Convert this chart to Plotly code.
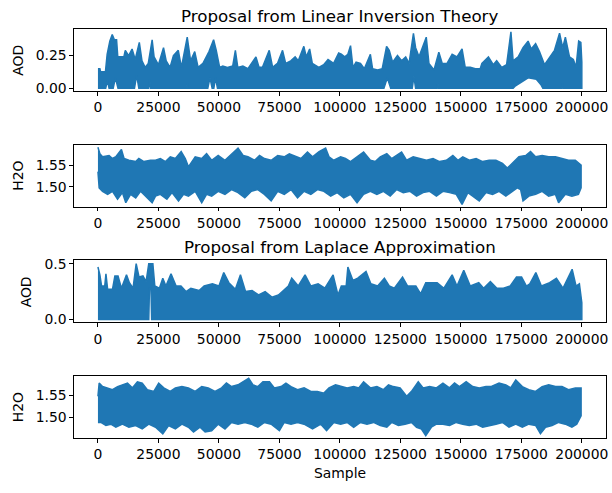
import plotly.graph_objects as go

# ---- data: envelopes (sample, value) ----
lin_aod_hi = [(0,0.15),(800,0.15),(1100,0.127),(3100,0.127),(3800,0.26),(4900,0.36),(5900,0.41),(6800,0.37),(7700,0.37),(8200,0.24),(9300,0.24),(10700,0.24),(11300,0.29),(12700,0.25),(14100,0.30),(15400,0.22),(17100,0.35),(18200,0.21),(19500,0.16),(20800,0.19),(22400,0.37),(23200,0.24),(25000,0.18),(27100,0.31),(28200,0.21),(29800,0.16),(31200,0.25),(33200,0.29),(34500,0.16),(36900,0.39),(38300,0.21),(40000,0.28),(41400,0.16),(43400,0.19),(45900,0.28),(47800,0.37),(48900,0.29),(50300,0.16),(51600,0.17),(53500,0.16),(55700,0.17),(56800,0.29),(57800,0.16),(59900,0.17),(62000,0.15),(65300,0.24),(66600,0.16),(68000,0.16),(70800,0.29),(72200,0.16),(74200,0.19),(76300,0.29),(77600,0.19),(79700,0.21),(81500,0.24),(82800,0.21),(85100,0.32),(86100,0.24),(87500,0.30),(88600,0.19),(91300,0.16),(93300,0.18),(95100,0.22),(97400,0.19),(99500,0.27),(100600,0.26),(102000,0.24),(103300,0.26),(104400,0.325),(105400,0.16),(106700,0.20),(108500,0.19),(110100,0.15),(112600,0.26),(113500,0.15),(115600,0.14),(117500,0.15),(119300,0.32),(120400,0.29),(121800,0.20),(123800,0.25),(125500,0.21),(127200,0.24),(128600,0.19),(130400,0.42),(131300,0.31),(132700,0.24),(134100,0.31),(135700,0.39),(136800,0.19),(138900,0.14),(140900,0.275),(142300,0.19),(144300,0.19),(146400,0.26),(148400,0.24),(150500,0.30),(151800,0.16),(153900,0.16),(156000,0.15),(158000,0.15),(158700,0.19),(161400,0.24),(163400,0.18),(164800,0.21),(166900,0.16),(168900,0.18),(170700,0.43),(171600,0.21),(173700,0.24),(175700,0.31),(177800,0.36),(179100,0.30),(180900,0.34),(182500,0.28),(184600,0.18),(186700,0.24),(188700,0.29),(190800,0.42),(192100,0.31),(193200,0.39),(194900,0.24),(196500,0.22),(197600,0.16),(198700,0.36),(199600,0.35),(200000,0.2)]
lin_aod_lo = [(0,0.0),(3200,0.0),(3900,0.06),(4600,0.0),(6300,0.0),(7200,0.08),(8300,0.0),(15100,0.0),(16000,0.10),(16900,0.0),(21000,0.0),(21400,0.07),(21800,0.0),(36600,0.0),(36900,0.04),(37200,0.0),(45400,0.0),(46300,0.08),(47200,0.0),(47900,0.0),(48600,0.08),(49400,0.0),(118200,0.0),(119600,0.08),(121000,0.0),(129900,0.0),(130600,0.09),(131300,0.0),(140200,0.0),(140500,0.04),(140800,0.0),(171600,0.0),(172300,0.015),(175000,0.05),(177800,0.08),(181200,0.07),(183200,0.025),(183900,0.0),(191700,0.0),(192000,0.035),(192300,0.0),(200000,0.0)]

lin_h2o_hi = [(0,1.591),(800,1.576),(1900,1.569),(4600,1.572),(6000,1.565),(7400,1.569),(9700,1.586),(10800,1.565),(12800,1.561),(15600,1.558),(16900,1.565),(19000,1.558),(21700,1.561),(23800,1.561),(25800,1.565),(27900,1.558),(29900,1.569),(32000,1.565),(34400,1.581),(36100,1.565),(37400,1.546),(40200,1.569),(42900,1.565),(44900,1.576),(47000,1.561),(49700,1.572),(52500,1.561),(55200,1.576),(57900,1.589),(60000,1.572),(62000,1.569),(64700,1.561),(66800,1.572),(68800,1.565),(71600,1.561),(74300,1.572),(77000,1.569),(79100,1.576),(81100,1.572),(83900,1.565),(86600,1.580),(88700,1.569),(91400,1.581),(94100,1.589),(95500,1.569),(97500,1.561),(100300,1.569),(102300,1.565),(104400,1.558),(107100,1.569),(109800,1.580),(112600,1.561),(114600,1.558),(116700,1.569),(119400,1.576),(121400,1.565),(123500,1.572),(125500,1.580),(127600,1.561),(130300,1.569),(133000,1.565),(135800,1.561),(138500,1.565),(141200,1.558),(144000,1.561),(146700,1.572),(148800,1.561),(150800,1.569),(153500,1.561),(156300,1.565),(159000,1.558),(161700,1.561),(164500,1.561),(167200,1.554),(169200,1.543),(171300,1.554),(174000,1.569),(176800,1.572),(178800,1.581),(180900,1.569),(183600,1.572),(186300,1.569),(189100,1.569),(191800,1.565),(194500,1.561),(197300,1.561),(199700,1.550)]
lin_h2o_lo = [(0,1.535),(500,1.498),(1900,1.490),(4000,1.483),(6000,1.490),(8100,1.472),(10100,1.487),(11500,1.464),(13500,1.483),(15600,1.475),(17600,1.490),(19700,1.479),(22400,1.464),(23800,1.479),(25800,1.483),(28500,1.472),(30600,1.487),(33300,1.468),(35400,1.483),(37400,1.479),(40200,1.490),(42900,1.464),(44900,1.483),(47000,1.479),(49700,1.490),(52500,1.483),(55200,1.494),(57900,1.487),(60700,1.475),(63400,1.490),(66100,1.494),(68800,1.483),(71600,1.468),(74300,1.490),(77000,1.483),(79800,1.494),(82500,1.475),(85200,1.490),(88000,1.483),(90700,1.494),(93400,1.490),(96200,1.479),(98900,1.487),(101600,1.475),(104400,1.483),(107100,1.464),(109800,1.483),(112600,1.490),(115300,1.483),(118000,1.490),(120800,1.479),(123500,1.494),(126200,1.487),(129000,1.490),(131700,1.479),(134400,1.487),(137100,1.490),(139900,1.479),(142600,1.490),(145300,1.487),(148100,1.483),(150500,1.460),(152900,1.487),(154900,1.479),(157600,1.468),(160400,1.487),(163100,1.483),(165800,1.490),(168600,1.479),(171300,1.490),(173300,1.498),(174700,1.494),(175700,1.468),(178100,1.479),(180900,1.483),(183600,1.490),(186300,1.479),(189100,1.483),(190400,1.464),(193200,1.483),(195900,1.479),(198600,1.483),(199700,1.498)]

lap_aod_hi = [(0,0.47),(800,0.4),(1500,0.3),(2800,0.3),(3300,0.41),(4000,0.27),(6000,0.27),(7000,0.39),(8300,0.39),(9700,0.28),(11800,0.40),(13000,0.33),(14500,0.28),(15800,0.5),(17000,0.38),(18600,0.39),(19900,0.34),(21000,0.5),(22700,0.5),(23500,0.3),(25400,0.28),(26800,0.37),(28100,0.3),(30200,0.41),(32300,0.3),(34300,0.3),(36400,0.25),(38400,0.28),(41800,0.26),(43900,0.3),(47300,0.32),(50000,0.3),(52000,0.42),(54100,0.33),(56800,0.27),(58900,0.4),(61000,0.25),(63700,0.26),(66400,0.22),(69100,0.25),(71900,0.2),(74600,0.22),(78700,0.3),(80100,0.37),(82800,0.3),(85600,0.4),(88000,0.3),(91000,0.32),(93800,0.28),(97200,0.4),(99200,0.22),(100600,0.3),(102600,0.3),(103300,0.47),(105400,0.35),(107400,0.37),(110800,0.43),(112800,0.32),(115600,0.3),(118400,0.37),(120400,0.3),(122500,0.28),(125900,0.38),(128000,0.3),(131400,0.3),(133400,0.23),(135500,0.33),(140200,0.33),(143000,0.28),(146400,0.4),(148400,0.3),(151200,0.44),(153900,0.3),(157400,0.33),(159400,0.28),(162200,0.34),(164900,0.28),(167600,0.28),(170400,0.3),(173000,0.38),(175100,0.38),(177100,0.3),(178500,0.32),(181000,0.42),(183300,0.3),(186700,0.33),(189500,0.37),(192200,0.28),(196000,0.45),(197600,0.3),(199000,0.32),(200000,0.15)]
lap_aod_lo = [(0,0.0),(21000,0.0),(21300,0.28),(21900,0.28),(22200,0.0),(200000,0.0)]

lap_h2o_hi = [(0,1.548),(500,1.578),(1900,1.570),(4000,1.567),(6000,1.563),(8100,1.570),(10100,1.574),(12200,1.578),(14200,1.567),(16300,1.581),(18300,1.578),(20400,1.563),(23100,1.559),(25100,1.578),(27200,1.567),(29900,1.559),(32000,1.567),(34700,1.570),(37400,1.567),(40200,1.559),(42900,1.570),(45600,1.567),(48400,1.559),(51100,1.567),(53100,1.578),(55200,1.570),(57900,1.574),(60000,1.581),(62300,1.589),(64100,1.574),(66100,1.570),(68200,1.581),(70900,1.581),(72900,1.567),(75700,1.570),(77700,1.578),(79800,1.570),(82500,1.563),(85200,1.567),(88000,1.559),(90700,1.559),(93400,1.555),(95500,1.567),(98200,1.574),(100900,1.570),(103000,1.567),(105700,1.570),(107800,1.567),(109800,1.581),(112600,1.567),(115300,1.570),(118000,1.563),(120100,1.574),(122100,1.570),(124900,1.567),(127600,1.548),(129600,1.559),(132400,1.581),(134400,1.567),(137100,1.570),(139900,1.567),(142600,1.578),(145300,1.567),(147400,1.578),(149400,1.570),(152200,1.581),(154900,1.570),(157600,1.567),(160400,1.570),(162400,1.570),(165800,1.578),(168600,1.574),(170600,1.567),(172700,1.585),(175400,1.570),(178100,1.563),(180900,1.559),(183600,1.570),(186300,1.574),(189100,1.570),(191800,1.570),(194500,1.563),(197300,1.567),(199700,1.567)]
lap_h2o_lo = [(0,1.488),(1200,1.488),(3300,1.481),(5300,1.484),(7400,1.477),(10100,1.484),(12800,1.477),(15600,1.481),(18300,1.473),(21000,1.484),(23800,1.477),(26800,1.462),(29200,1.481),(32000,1.473),(34700,1.484),(37400,1.477),(39500,1.466),(42200,1.477),(44300,1.466),(47000,1.469),(49700,1.484),(52500,1.473),(55200,1.488),(57900,1.484),(60700,1.488),(63400,1.484),(66100,1.477),(68800,1.488),(71600,1.484),(75000,1.469),(77000,1.488),(79800,1.484),(82500,1.488),(85200,1.484),(88700,1.473),(92100,1.484),(94500,1.469),(97500,1.488),(100300,1.484),(103000,1.488),(105700,1.477),(108500,1.488),(111200,1.484),(113900,1.488),(116700,1.481),(119400,1.477),(121400,1.488),(124200,1.481),(126900,1.484),(129600,1.488),(131700,1.477),(133700,1.473),(135500,1.458),(137800,1.477),(139900,1.484),(142600,1.484),(145300,1.481),(148100,1.488),(150800,1.484),(153500,1.481),(156300,1.484),(159000,1.477),(161700,1.481),(164500,1.484),(167200,1.488),(169900,1.477),(172700,1.484),(175400,1.477),(178100,1.484),(180900,1.481),(182900,1.462),(185000,1.477),(187700,1.481),(190400,1.488),(193200,1.484),(195900,1.477),(197900,1.484),(199700,1.503)]

titles = ["Proposal from Linear Inversion Theory", "Proposal from Laplace Approximation"]
ylabels = ["AOD", "H2O", "AOD", "H2O"]
x_ticks = [0, 25000, 50000, 75000, 100000, 125000, 150000, 175000, 200000]
y_ticks = [[0.0, 0.25], [1.50, 1.55], [0.0, 0.5], [1.50, 1.55]]
y_fmt = [".2f", ".2f", ".1f", ".2f"]

# ---- layout geometry (pixels) ----
W, H = 612, 493
L, R = 74, 608
panels_px = [(24, 88), (142.7, 206), (260.7, 324), (379, 442.3)]
y_ranges = [[-0.0217, 0.456], [1.4545, 1.5964], [-0.026, 0.529], [1.4516, 1.5935]]
ylabel_x = [18, 18, 27, 18]
C = "#1f77b4"

fig = go.Figure()
series = [(lin_aod_hi, lin_aod_lo), (lin_h2o_hi, lin_h2o_lo), (lap_aod_hi, lap_aod_lo), (lap_h2o_hi, lap_h2o_lo)]
font = dict(family="DejaVu Sans", size=13.9, color="black")

for i, (hi, lo) in enumerate(series):
    xs = [p[0] for p in hi] + [p[0] for p in lo[::-1]]
    ys = [p[1] for p in hi] + [p[1] for p in lo[::-1]]
    n = "" if i == 0 else str(i + 1)
    fig.add_trace(go.Scatter(x=xs, y=ys, mode="lines", fill="toself", fillcolor=C,
                             line=dict(color=C, width=1.5), xaxis="x" + n, yaxis="y" + n,
                             showlegend=False, hoverinfo="skip"))
    top, bot = panels_px[i]
    ax = dict(domain=[L / W, R / W], range=[-10000, 210000], tickvals=x_ticks,
              ticktext=[str(v) for v in x_ticks], ticks="outside", ticklen=3.5, tickwidth=0.8,
              tickcolor="black", showline=True, linecolor="black", linewidth=0.8, mirror=True,
              showgrid=False, zeroline=False, tickfont=font, anchor="y" + n)
    ay = dict(domain=[1 - bot / H, 1 - top / H], range=y_ranges[i], tickvals=y_ticks[i],
              tickformat=y_fmt[i], ticks="outside", ticklen=3.5, tickwidth=0.8,
              tickcolor="black", showline=True, linecolor="black", linewidth=0.8, mirror=True,
              showgrid=False, zeroline=False, tickfont=font, anchor="x" + n)
    fig.layout["xaxis" + n] = ax
    fig.layout["yaxis" + n] = ay
    fig.add_annotation(text=ylabels[i], xref="paper", yref="paper", x=ylabel_x[i] / W,
                       y=1 - (top + bot) / 2 / H, textangle=-90, showarrow=False,
                       font=font, xanchor="center", yanchor="middle")

fig.add_annotation(text=titles[0], xref="paper", yref="paper", x=(L + R) / 2 / W, y=1 - 11 / H,
                   showarrow=False, font=dict(family="DejaVu Sans", size=16.7, color="black"),
                   xanchor="center", yanchor="middle")
fig.add_annotation(text=titles[1], xref="paper", yref="paper", x=(L + R) / 2 / W, y=1 - 246.5 / H,
                   showarrow=False, font=dict(family="DejaVu Sans", size=16.7, color="black"),
                   xanchor="center", yanchor="middle")
fig.add_annotation(text="Sample", xref="paper", yref="paper", x=(L + R) / 2 / W, y=1 - 478 / H,
                   showarrow=False, font=font, xanchor="center", yanchor="middle")

fig.update_layout(width=W, height=H, autosize=False, margin=dict(l=0, r=0, t=0, b=0),
                  paper_bgcolor="white", plot_bgcolor="white")
fig.write_html("out.html", config={"displayModeBar": False},
               post_script="document.body.style.margin='0';document.body.style.overflow='hidden';")
